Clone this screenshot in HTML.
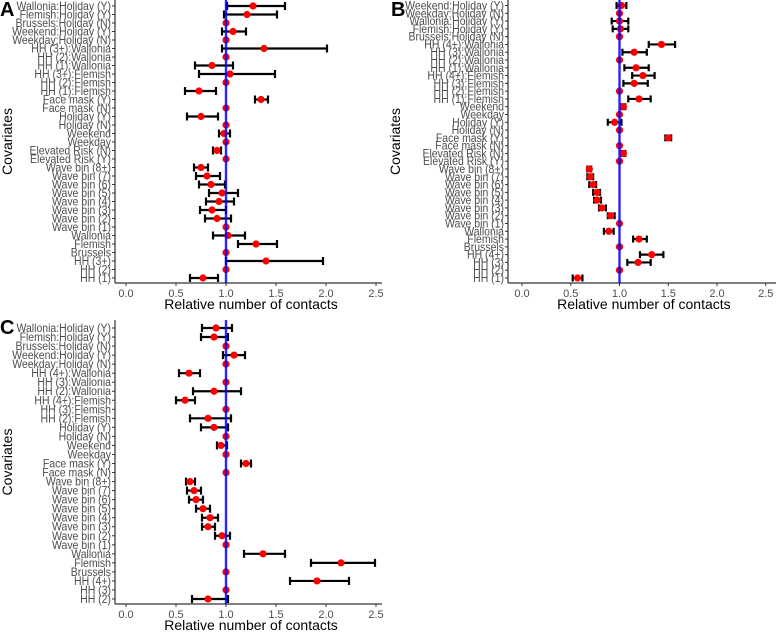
<!DOCTYPE html>
<html><head><meta charset="utf-8"><style>
html,body{margin:0;padding:0;background:#fff;}
svg{display:block;font-family:"Liberation Sans",sans-serif;}
</style></head><body>
<svg id="chart" width="778" height="632" viewBox="0 0 778 632"></svg>
<script>
const labelsA=["Wallonia:Holiday (Y)","Flemish:Holiday (Y)","Brussels:Holiday (N)","Weekend:Holiday (Y)","Weekday:Holiday (N)","HH (3+):Wallonia","HH (2):Wallonia","HH (1):Wallonia","HH (3+):Flemish","HH (2):Flemish","HH (1):Flemish","Face mask (Y)","Face mask (N)","Holiday (Y)","Holiday (N)","Weekend","Weekday","Elevated Risk (N)","Elevated Risk (Y)","Wave bin (8+)","Wave bin (7)","Wave bin (6)","Wave bin (5)","Wave bin (4)","Wave bin (3)","Wave bin (2)","Wave bin (1)","Wallonia","Flemish","Brussels","HH (3+)","HH (2)","HH (1)"];
const estA=[1.27,1.21,1,1.07,1,1.38,1,0.86,1.04,1,0.73,1.35,1,0.75,1,0.98,1,0.91,1,0.75,0.81,0.85,0.96,0.93,0.86,0.91,1,1.02,1.30,1,1.40,1,0.77];
const lowA=[1.01,0.98,1,0.96,1,0.96,1,0.69,0.73,1,0.59,1.29,1,0.61,1,0.93,1,0.87,1,0.68,0.70,0.73,0.83,0.80,0.74,0.79,1,0.87,1.12,1,1.00,1,0.64];
const highA=[1.59,1.51,1,1.20,1,2.01,1,1.07,1.49,1,0.90,1.42,1,0.92,1,1.04,1,0.95,1,0.82,0.94,0.99,1.12,1.08,1.00,1.05,1,1.19,1.51,1,1.97,1,0.92];

const labelsB=["Weekend:Holiday (Y)","Weekday:Holiday (N)","Wallonia:Holiday (Y)","Flemish:Holiday (Y)","Brussels:Holiday (N)","HH (4+):Wallonia","HH (3):Wallonia","HH (2):Wallonia","HH (1):Wallonia","HH (4+):Flemish","HH (3):Flemish","HH (2):Flemish","HH (1):Flemish","Weekend","Weekday","Holiday (Y)","Holiday (N)","Face mask (Y)","Face mask (N)","Elevated Risk (N)","Elevated Risk (Y)","Wave bin (8+)","Wave bin (7)","Wave bin (6)","Wave bin (5)","Wave bin (4)","Wave bin (3)","Wave bin (2)","Wave bin (1)","Wallonia","Flemish","Brussels","HH (4+)","HH (3)","HH (2)","HH (1)"];
const estB=[1.02,1,1.00,1.01,1,1.43,1.15,1,1.17,1.24,1.15,1,1.20,1.04,1,0.95,1,1.50,1,1.04,1,0.69,0.70,0.73,0.77,0.77,0.82,0.91,1,0.89,1.20,1,1.33,1.19,1,0.57];
const lowB=[0.97,1,0.92,0.93,1,1.30,1.03,1,1.05,1.13,1.04,1,1.09,1.02,1,0.88,1,1.47,1,1.02,1,0.67,0.67,0.69,0.73,0.74,0.79,0.88,1,0.84,1.14,1,1.21,1.08,1,0.52];
const highB=[1.07,1,1.09,1.09,1,1.57,1.28,1,1.30,1.36,1.29,1,1.32,1.06,1,1.02,1,1.53,1,1.06,1,0.71,0.73,0.76,0.80,0.81,0.86,0.95,1,0.94,1.28,1,1.45,1.32,1,0.62];

const labelsC=["Wallonia:Holiday (Y)","Flemish:Holiday (Y)","Brussels:Holiday (N)","Weekend:Holiday (Y)","Weekday:Holiday (N)","HH (4+):Wallonia","HH (3):Wallonia","HH (2):Wallonia","HH (4+):Flemish","HH (3):Flemish","HH (2):Flemish","Holiday (Y)","Holiday (N)","Weekend","Weekday","Face mask (Y)","Face mask (N)","Wave bin (8+)","Wave bin (7)","Wave bin (6)","Wave bin (5)","Wave bin (4)","Wave bin (3)","Wave bin (2)","Wave bin (1)","Wallonia","Flemish","Brussels","HH (4+)","HH (3)","HH (2)"];
const estC=[0.90,0.88,1,1.08,1,0.63,1,0.88,0.59,1,0.82,0.88,1,0.95,1,1.20,1,0.64,0.68,0.70,0.77,0.84,0.82,0.96,1,1.37,2.15,1,1.91,1,0.82];
const lowC=[0.76,0.75,1,0.97,1,0.53,1,0.67,0.50,1,0.64,0.75,1,0.91,1,1.15,1,0.60,0.61,0.63,0.70,0.76,0.76,0.89,1,1.18,1.85,1,1.64,1,0.66];
const highC=[1.06,1.02,1,1.19,1,0.74,1,1.15,0.69,1,1.05,1.02,1,1.01,1,1.25,1,0.69,0.75,0.77,0.84,0.92,0.89,1.04,1,1.59,2.49,1,2.23,1,1.02];

const xTicks=[0,0.5,1,1.5,2,2.5];
const xTickLabels=["0.0","0.5","1.0","1.5","2.0","2.5"];

const NS="http://www.w3.org/2000/svg";
const svg=document.getElementById('chart');
function mk(tag,attrs,parent){const e=document.createElementNS(NS,tag);for(const k in attrs)e.setAttribute(k,attrs[k]);(parent||svg).appendChild(e);return e;}

function panel(id,letter,labels,est,low,high,g){
  const grp=mk('g',{});
  
  
  const sx=v=>g.x0+v*g.unit;
  const n=labels.length;
  const step=(g.yLast-g.yFirst)/(n-1);
  const sy=i=>g.yFirst+i*step;
  const ya=mk('line',{x1:g.ax,y1:g.top,x2:g.ax,y2:g.bottom,stroke:'#333',"stroke-width":1.2},grp);
  
  const xa=mk('line',{x1:g.ax,y1:g.bottom,x2:g.right,y2:g.bottom,stroke:'#333',"stroke-width":1.2},grp);
  
  xTicks.forEach((t,i)=>{
    mk('line',{x1:sx(t),y1:g.bottom,x2:sx(t),y2:g.bottom+3,stroke:'#333'},grp);
    const tl=mk('text',{x:sx(t),y:g.bottom+14,"text-anchor":"middle","font-size":11,fill:'#4d4d4d'},grp);
    tl.textContent=xTickLabels[i];
    
  });
  labels.forEach((l,i)=>{
    mk('line',{x1:g.ax-3,y1:sy(i),x2:g.ax,y2:sy(i),stroke:'#333'},grp);
    const t=mk('text',{x:0,y:0,"text-anchor":"end","font-size":g.fs,fill:'#4d4d4d',transform:`translate(${g.ax-4} ${sy(i)+4}) scale(1 1.12)`},grp);
    t.textContent=l;
    
  });
  labels.forEach((l,i)=>{
    if(high[i]-low[i]<0.001)return;
    const eb=mk('g',{stroke:'#000',"stroke-width":2.2},grp);
    
    const y=sy(i),h=g.cap;
    mk('line',{x1:sx(low[i]),y1:y,x2:sx(high[i]),y2:y},eb);
    mk('line',{x1:sx(low[i]),y1:y-h,x2:sx(low[i]),y2:y+h},eb);
    mk('line',{x1:sx(high[i]),y1:y-h,x2:sx(high[i]),y2:y+h},eb);
  });
  est.forEach((v,i)=>{
    const c=mk('circle',{cx:sx(v),cy:sy(i),r:3.6,fill:'#ff0000'},grp);
    
  });
  const rl=mk('line',{x1:sx(1),y1:g.top,x2:sx(1),y2:g.bottom,stroke:'#0000ff',"stroke-width":2.4,"stroke-opacity":0.85},grp);
  
  const xt=mk('text',{x:sx(1.25),y:g.bottom+26,"text-anchor":"middle","font-size":14,fill:'#000'},grp);
  xt.textContent='Relative number of contacts';
  
  const cy=(g.top+g.bottom)/2;
  const yt=mk('text',{x:g.ytx,y:cy,"text-anchor":"middle","font-size":14,fill:'#000',transform:`rotate(-90 ${g.ytx} ${cy})`},grp);
  yt.textContent='Covariates';
  
  const pl=mk('text',{x:g.lx,y:g.ly,"font-size":20,"font-weight":"bold",fill:'#000'},grp);
  pl.textContent=letter;
  
}
panel('a','A',labelsA,estA,lowA,highA,{ax:115,x0:126,unit:100,top:0,bottom:283,right:382,yFirst:6,yLast:278,fs:10.5,cap:4,ytx:12,lx:0,ly:16});
panel('b','B',labelsB,estB,lowB,highB,{ax:508,x0:522,unit:97.5,top:0,bottom:283,right:776,yFirst:5.5,yLast:278,fs:10.5,cap:3.5,ytx:400,lx:391,ly:16});
panel('c','C',labelsC,estC,lowC,highC,{ax:115,x0:126,unit:100,top:320,bottom:604,right:382,yFirst:328,yLast:599,fs:10.5,cap:4,ytx:12,lx:0,ly:334});
</script>
</body></html>
